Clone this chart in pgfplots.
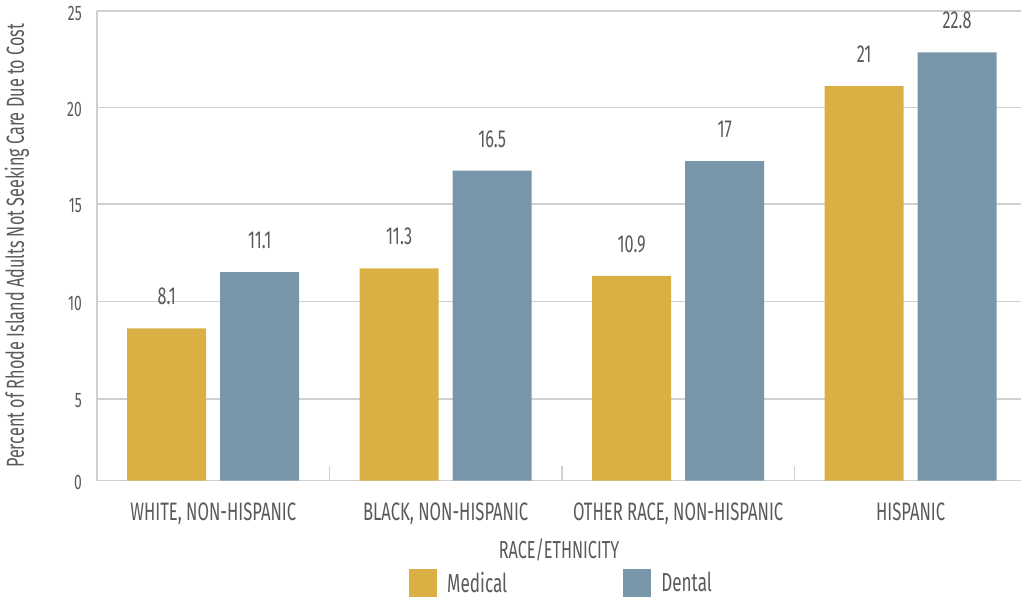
\documentclass[border=0pt]{standalone}
\usepackage{fontspec}
\setmainfont{Fira Sans}[FakeStretch=0.66]
\usepackage{pgfplots}
\pgfplotsset{compat=1.18}
\definecolor{med}{HTML}{DAB045}
\definecolor{den}{HTML}{7896AA}
\definecolor{txt}{HTML}{5A5A5A}
\definecolor{grd}{HTML}{D0D0D0}
\begin{document}
\begin{tikzpicture}[x=1pt,y=1pt]
\useasboundingbox (0,0) rectangle (1021,600);
\begin{axis}[
  at={(97pt,119.5pt)}, anchor=south west,
  scale only axis, width=924pt, height=469.5pt,
  xmin=-0.5, xmax=3.475, ymin=0, ymax=25,
  clip=false,
  axis lines*=left,
  axis line style={grd, line width=1.5pt, -},
  ybar=14pt, bar width=79pt,
  xtick={0,1,2,3},
  xticklabels={{WHITE, NON-HISPANIC},{BLACK, NON-HISPANIC},{OTHER RACE, NON-HISPANIC},{HISPANIC}},
  major tick length=0pt,
  extra x ticks={0.5,1.5,2.5},
  extra x tick labels={},
  extra x tick style={major tick length=14pt, tick align=inside, tick style={grd, line width=1.5pt}},
  ytick={0,4.34,9.52,14.72,19.85,25},
  yticklabels={0,5,10,15,20,25},
  ymajorgrids,
  grid style={grd, line width=1.5pt},
  xticklabel style={font=\fontsize{25.2}{29}\selectfont, text=txt, inner sep=0pt, anchor=north, yshift=-22pt},
  yticklabel style={font=\fontsize{21}{24}\selectfont, text=txt, inner sep=0pt, anchor=east, xshift=-15pt, yshift=-2pt},
  xlabel={RACE/ETHNICITY},
  xlabel style={at={(axis description cs:0.5,-0.148)}, anchor=center, font=\fontsize{24.6}{28}\selectfont, text=txt, inner sep=0pt},
  ylabel={Percent of Rhode Island Adults Not Seeking Care Due to Cost},
  ylabel style={at={(axis description cs:-0.0866,0.5)}, anchor=center, font=\fontsize{24.6}{28}\selectfont, text=txt, inner sep=0pt},
  nodes near coords,
  /pgf/number format/assume math mode=true,
  every node near coord/.append style={font=\fontsize{24.6}{28}\selectfont, text=txt, inner sep=0pt, anchor=south, yshift=23pt},
  legend columns=2,
  legend image code/.code={\fill[#1] (0pt,-14pt) rectangle (28pt,14pt);},
  legend style={at={(0.3377,-0.2183)}, anchor=west, draw=none, fill=none, inner sep=0pt,
    font=\fontsize{26}{30}\selectfont, text=txt, nodes={inner sep=0pt},
    /tikz/every odd column/.append style={column sep=10pt},
    /tikz/every even column/.append style={column sep=116pt}},
]
\addplot[fill=med, draw=none] coordinates {(0,8.1) (1,11.3) (2,10.9) (3,21)};
\addlegendentry{Medical}
\addplot[fill=den, draw=none] coordinates {(0,11.1) (1,16.5) (2,17) (3,22.8)};
\addlegendentry{Dental}
\end{axis}
\end{tikzpicture}
\end{document}
